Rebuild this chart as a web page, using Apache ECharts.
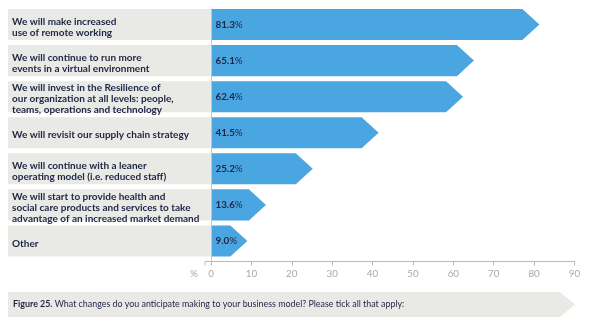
<!DOCTYPE html>
<html>
<head>
<meta charset="utf-8">
<style>
  html, body { margin: 0; padding: 0; background: #ffffff; }
  #chart { width: 590px; height: 326px; }
</style>
<script src="https://cdn.jsdelivr.net/npm/echarts@6/dist/echarts.min.js"></script>
</head>
<body>
<div id="chart"></div>
<script>
// Planned changes to the business model (share of respondents, %)
const categories = [
  'We will make increased\nuse of remote working',
  'We will continue to run more\nevents in a virtual environment',
  'We will invest in the Resilience of\nour organization at all levels: people,\nteams, operations and technology',
  'We will revisit our supply chain strategy',
  'We will continue with a leaner\noperating model (i.e. reduced staff)',
  'We will start to provide health and\nsocial care products and services to take\nadvantage of an increased market demand',
  'Other'
];
const values = [81.3, 65.1, 62.4, 41.5, 25.2, 13.6, 9.0];
const axisTicks = [0, 10, 20, 30, 40, 50, 60, 70, 80, 90];
const captionLead = 'Figure 25.';
const captionText = ' What changes do you anticipate making to your business model? Please tick all that apply:';

const NAVY = '#1e2444';
const BLUE = '#4aa6e1';
const BAND = '#e9e9e5';
const AXIS = '#b9b9b9';
const FONT = 'Lato, "Open Sans", sans-serif';

const GRID_LEFT = 211;
const GRID_BOTTOM = 64.5;
const BAND_LEFT = 8;

const chart = echarts.init(document.getElementById('chart'), null, { renderer: 'canvas' });

function renderRow(params, api) {
  const idx = api.value(0);
  const val = api.value(1);
  const origin = api.coord([0, idx]);
  const tip = api.coord([val, idx]);
  const slot = api.size([0, 1])[1];
  const top = origin[1] - slot / 2;
  const h = slot - 5;
  const midY = top + h / 2;
  const depth = Math.min(17, tip[0] - origin[0]);
  const x0 = origin[0];
  const xr = tip[0] - depth;
  return {
    type: 'group',
    children: [
      {
        type: 'rect',
        shape: { x: BAND_LEFT, y: top, width: x0 - BAND_LEFT, height: h },
        style: { fill: BAND },
        z2: 0
      },
      {
        type: 'polygon',
        shape: { points: [[x0, top], [xr, top], [tip[0], midY], [xr, top + h], [x0, top + h]] },
        style: { fill: BLUE },
        z2: 1
      },
      {
        type: 'text',
        x: x0 + 4.5,
        y: midY,
        style: {
          text: '{n|' + val.toFixed(1) + '}{p|%}',
          verticalAlign: 'middle',
          rich: {
            n: { fontFamily: FONT, fontWeight: 'bold', fontSize: 9.8, fill: NAVY },
            p: { fontFamily: FONT, fontWeight: 'normal', fontSize: 9.8, fill: NAVY }
          }
        },
        z2: 2
      }
    ]
  };
}

chart.setOption({
  animation: false,
  grid: { left: GRID_LEFT, right: 15.5, top: 9, bottom: GRID_BOTTOM, containLabel: false },
  xAxis: {
    type: 'value',
    min: axisTicks[0],
    max: axisTicks[axisTicks.length - 1],
    interval: 10,
    axisLine: { show: true, lineStyle: { color: AXIS, width: 1 } },
    axisTick: { show: true, length: 4, lineStyle: { color: AXIS } },
    splitLine: { show: false },
    axisLabel: { color: '#a9a9a9', fontFamily: FONT, fontSize: 9.8, margin: 7 }
  },
  yAxis: {
    type: 'category',
    data: categories,
    inverse: true,
    axisLine: { show: true, lineStyle: { color: '#c4c4c4', width: 1 } },
    axisTick: { show: false },
    axisLabel: {
      align: 'left',
      margin: GRID_LEFT - 12,
      color: NAVY,
      fontFamily: FONT,
      fontWeight: 'bold',
      fontSize: 10,
      lineHeight: 11,
      padding: [0, 0, 5, 0]
    },
    z: 5
  },
  series: [{
    type: 'custom',
    renderItem: renderRow,
    data: values.map(function (v, i) { return [i, v]; }),
    encode: { x: 1, y: 0 },
    z: 1
  }]
});

// caption strip, "%" unit marker and a short axis stub left of zero
const zeroPt = chart.convertToPixel({ gridIndex: 0 }, [0, 0]);
const axisY = chart.getHeight() - GRID_BOTTOM;
chart.setOption({
  graphic: [
    {
      id: 'captionBand',
      type: 'polygon',
      shape: { points: [[8, 292], [560, 292], [575, 304.5], [560, 317], [8, 317]] },
      style: { fill: BAND },
      z: 0
    },
    {
      id: 'captionText',
      type: 'text',
      x: 13,
      y: 304.5,
      style: {
        text: '{b|' + captionLead + '}{r|' + captionText + '}',
        verticalAlign: 'middle',
        rich: {
          b: { fontFamily: FONT, fontWeight: 'bold', fontSize: 8.9, fill: NAVY },
          r: { fontFamily: FONT, fontWeight: 'normal', fontSize: 8.9, fill: NAVY }
        }
      }
    },
    {
      id: 'unit',
      type: 'text',
      x: 190,
      y: axisY + 12,
      style: { text: '%', fontFamily: FONT, fontSize: 9.8, fill: '#a9a9a9', verticalAlign: 'middle' }
    },
    {
      id: 'stubLine',
      type: 'line',
      shape: { x1: zeroPt[0] - 6, y1: axisY, x2: zeroPt[0], y2: axisY },
      style: { stroke: AXIS, lineWidth: 1 }
    },
    {
      id: 'stubTick',
      type: 'line',
      shape: { x1: zeroPt[0] - 6, y1: axisY, x2: zeroPt[0] - 6, y2: axisY + 4 },
      style: { stroke: AXIS, lineWidth: 1 }
    }
  ]
});
</script>
</body>
</html>
